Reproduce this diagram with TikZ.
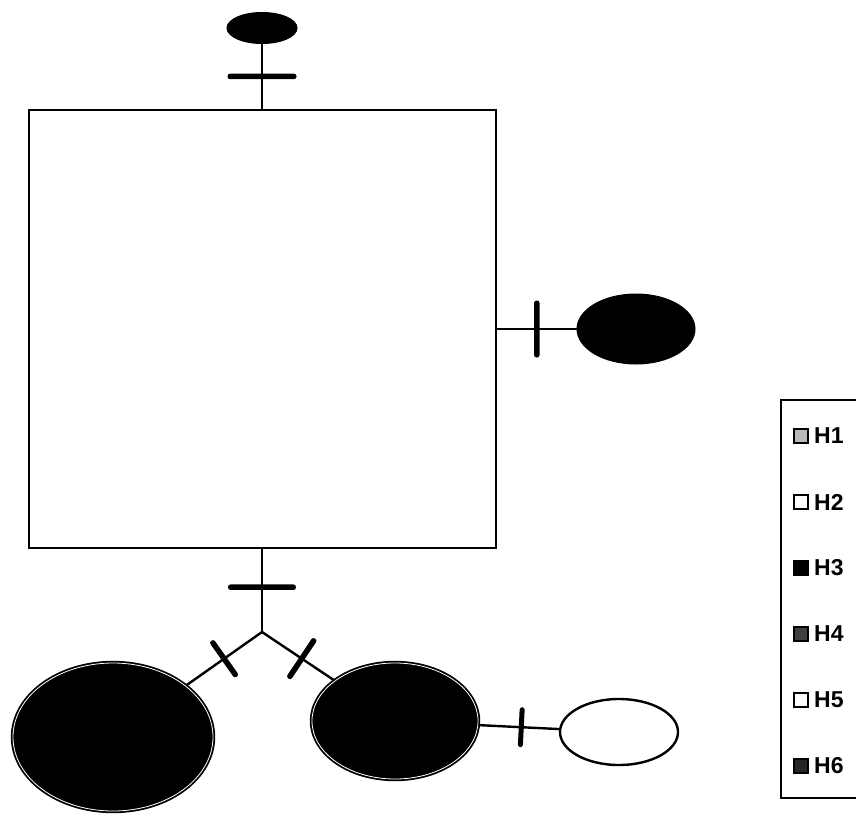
\documentclass[tikz,border=0pt]{standalone}
\usepackage{fontspec}
\setmainfont{Liberation Sans}
\usetikzlibrary{shapes.geometric}
\begin{document}
\begin{tikzpicture}[x=1pt,y=-1pt,
  conn/.style={line width=2.4pt},
  hatch/.style={sloped, fill=black, draw=none, inner sep=0pt, minimum width=5.5pt, rounded corners=2.5pt},
  dark/.style={ellipse, fill=black, draw=black, line width=1pt, inner sep=0pt},
  darkdbl/.style={ellipse, draw=black, line width=1.8pt, double=white, double distance=0.8pt, fill=black, inner sep=0pt},
  light/.style={ellipse, fill=white, draw=black, line width=2.4pt, inner sep=0pt},
  legsq/.style={draw=black, line width=2pt, minimum size=14pt, inner sep=0pt},
  leglab/.style={anchor=west, inner sep=0pt, font=\fontsize{23}{23}\selectfont\bfseries}
]
\useasboundingbox (0,0) rectangle (856,814);

% main box
\node[draw=black, line width=2.2pt, minimum width=467pt, minimum height=438pt, inner sep=0pt] (box) at (262.5,329) {};

% ellipses
\node[dark, minimum width=70pt, minimum height=31pt] (top) at (262,28) {};
\node[dark, minimum width=118pt, minimum height=70pt] (right) at (636,329) {};
\node[darkdbl, minimum width=200pt, minimum height=148pt] (left) at (113,737) {};
\node[darkdbl, minimum width=166pt, minimum height=116pt] (mid) at (395,721) {};
\node[light, minimum width=118pt, minimum height=66pt] (small) at (619,732) {};
\coordinate (j) at (262,632);

% connectors with hatch marks
\draw[conn] (top) -- node[hatch, pos=0.5, minimum height=69pt] {} (box.north -| top);
\draw[conn] (box.east |- right) -- node[hatch, pos=0.5, minimum height=57pt] {} (right);
\draw[conn] (box.south -| j) -- node[hatch, pos=0.46, minimum height=68pt] {} (j);
\draw[conn] (j) -- node[hatch, pos=0.5, minimum height=44pt] {} (left);
\draw[conn] (j) -- node[hatch, pos=0.55, minimum height=48pt] {} (mid);
\draw[conn] (mid) -- node[hatch, pos=0.53, minimum height=40pt, minimum width=5pt] {} (small);

% legend
\node[draw=black, line width=2.8pt, minimum width=100pt, minimum height=398pt, inner sep=0pt] (legend) at (831,599) {};
\node[legsq, fill=gray!55] (s1) at (801,436) {};
\node[leglab] (l1) at (814,436) {H1};
\node[legsq, fill=white] (s2) at (801,502) {};
\node[leglab] (l2) at (814,502) {H2};
\node[legsq, fill=black] (s3) at (801,568) {};
\node[leglab] (l3) at (814,568) {H3};
\node[legsq, fill=black!75] (s4) at (801,634) {};
\node[leglab] (l4) at (814,634) {H4};
\node[legsq, fill=white] (s5) at (801,700) {};
\node[leglab] (l5) at (814,700) {H5};
\node[legsq, fill=black!85] (s6) at (801,766) {};
\node[leglab] (l6) at (814,766) {H6};
\end{tikzpicture}
\end{document}
